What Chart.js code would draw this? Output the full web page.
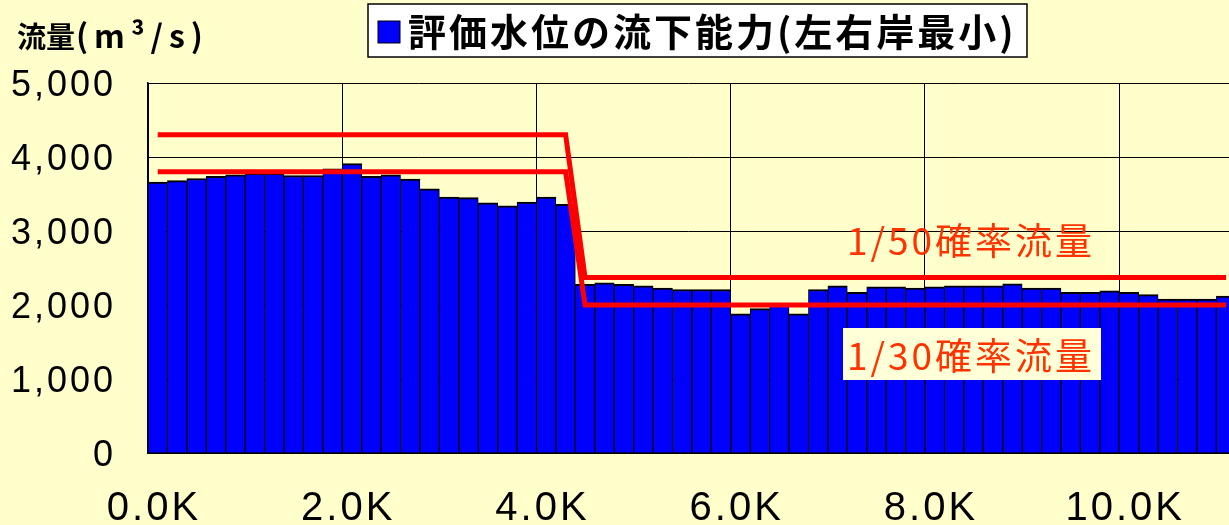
<!DOCTYPE html>
<html>
<head>
<meta charset="utf-8">
<script src="https://cdn.jsdelivr.net/npm/chart.js@4/dist/chart.umd.min.js"></script>
<style>
  html, body { margin: 0; padding: 0; background: #ffffcc; }
</style>
</head>
<body>
<canvas id="chart" width="1229" height="525"></canvas>
<script>
// 距離標 (bar centres, km)
const distanceK = [
  0.1, 0.3, 0.5, 0.7, 0.9, 1.1, 1.3, 1.5, 1.7, 1.9,
  2.1, 2.3, 2.5, 2.7, 2.9, 3.1, 3.3, 3.5, 3.7, 3.9,
  4.1, 4.3, 4.5, 4.7, 4.9, 5.1, 5.3, 5.5, 5.7, 5.9,
  6.1, 6.3, 6.5, 6.7, 6.9, 7.1, 7.3, 7.5, 7.7, 7.9,
  8.1, 8.3, 8.5, 8.7, 8.9, 9.1, 9.3, 9.5, 9.7, 9.9,
  10.1, 10.3, 10.5, 10.7, 10.9, 11.1
];
// 評価水位の流下能力(左右岸最小) m3/s
const capacity = [
  3660, 3680, 3710, 3740, 3760, 3780, 3780, 3750, 3750, 3840,
  3910, 3740, 3760, 3700, 3570, 3460, 3450, 3380, 3340, 3390,
  3460, 3360, 2280, 2300, 2280, 2260, 2230, 2210, 2210, 2210,
  1880, 1950, 2010, 1880, 2210, 2260, 2170, 2245, 2245, 2230,
  2245, 2260, 2260, 2260, 2285, 2230, 2230, 2170, 2170, 2190,
  2170, 2140, 2080, 2080, 2080, 2120
];
// 確率流量 (break points)
const flowLineK = [0.1, 4.3, 4.5, 11.1];
const flow50 = [4300, 4300, 2370, 2370];
const flow30 = [3800, 3800, 2000, 2000];

const xTickValues = [0, 2, 4, 6, 8, 10];
const xTickLabels = ["0.0K", "2.0K", "4.0K", "6.0K", "8.0K", "10.0K"];
const yTickValues = [0, 1000, 2000, 3000, 4000, 5000];
const yTickLabels = ["0", "1,000", "2,000", "3,000", "4,000", "5,000"];

const BG = "#ffffcc";
const JP = "'Noto Sans CJK JP', sans-serif";
const NUM = "'Liberation Sans', Arial, sans-serif";

const decor = {
  id: "decor",
  beforeDraw(chart) {
    const ctx = chart.ctx;
    ctx.save();
    ctx.fillStyle = BG;
    ctx.fillRect(0, 0, chart.width, chart.height);
    ctx.restore();
    ctx.letterSpacing = "3px"; // wide tick labels
  },
  afterDraw(chart) {
    const ctx = chart.ctx;
    ctx.letterSpacing = "0px";
    ctx.save();

    // y axis title
    ctx.fillStyle = "#000";
    ctx.textBaseline = "middle";
    ctx.font = "bold 29px " + JP;
    ctx.fillText("流量", 17, 37);
    ctx.font = "bold 32px " + JP;
    ctx.letterSpacing = "6px";
    ctx.fillText("(m³/s)", 76, 36);

    // legend box
    ctx.letterSpacing = "0px";
    ctx.fillStyle = "#ffffff";
    ctx.fillRect(368, 4, 659, 53);
    ctx.strokeStyle = "#000";
    ctx.lineWidth = 1.5;
    ctx.strokeRect(368, 4, 659, 53);
    ctx.fillStyle = "#0000ff";
    ctx.fillRect(378, 21, 22, 22);
    ctx.lineWidth = 1;
    ctx.strokeRect(378, 21, 22, 22);
    ctx.fillStyle = "#000";
    ctx.font = "bold 38px " + JP;
    ctx.letterSpacing = "3px";
    ctx.fillText("評価水位の流下能力(左右岸最小)", 408, 32);

    // flow labels
    ctx.font = "37px " + JP;
    ctx.fillStyle = "#ff3300";
    ctx.fillText("1/50確率流量", 847, 241);
    ctx.fillStyle = "#ffffd8";
    ctx.fillRect(843, 328, 258, 52);
    ctx.fillStyle = "#ff3300";
    ctx.fillText("1/30確率流量", 847, 356);

    ctx.restore();
    ctx.letterSpacing = "0px";
  }
};

new Chart(document.getElementById("chart"), {
  type: "bar",
  data: {
    datasets: [
      {
        type: "line",
        label: "1/50確率流量",
        data: flowLineK.map((x, i) => ({ x, y: flow50[i] })),
        borderColor: "#ff0000",
        borderWidth: 5,
        pointRadius: 0,
        fill: false,
        order: 1
      },
      {
        type: "line",
        label: "1/30確率流量",
        data: flowLineK.map((x, i) => ({ x, y: flow30[i] })),
        borderColor: "#ff0000",
        borderWidth: 5,
        pointRadius: 0,
        fill: false,
        order: 1
      },
      {
        label: "評価水位の流下能力(左右岸最小)",
        data: distanceK.map((x, i) => ({ x, y: capacity[i] })),
        backgroundColor: "#0000ff",
        borderColor: "#000000",
        borderWidth: { top: 2, left: 1, right: 1, bottom: 0 },
        barPercentage: 1,
        categoryPercentage: 1,
        order: 2
      }
    ]
  },
  options: {
    responsive: false,
    animation: false,
    layout: { padding: { top: 83, left: 0, right: 0, bottom: 0 } },
    plugins: {
      legend: { display: false },
      tooltip: { enabled: false }
    },
    scales: {
      x: {
        type: "linear",
        min: 0,
        max: 11.13,
        offset: false,
        afterBuildTicks: s => { s.ticks = xTickValues.map(v => ({ value: v })); },
        afterFit: s => { s.height = 72; },
        grid: { color: "#000", lineWidth: 1, drawTicks: false, offset: false },
        border: { color: "#000", width: 1.5 },
        ticks: {
          callback: (v, i) => xTickLabels[i],
          font: { family: NUM, size: 40 },
          color: "#000",
          padding: 32,
          labelOffset: 6,
          autoSkip: false,
          maxRotation: 0
        }
      },
      y: {
        min: 0,
        max: 5000,
        afterBuildTicks: s => { s.ticks = yTickValues.map(v => ({ value: v })); },
        afterFit: s => { s.width = 148; },
        grid: { color: "#000", lineWidth: 1, drawTicks: false },
        border: { color: "#000", width: 1.5 },
        ticks: {
          callback: (v, i) => yTickLabels[i],
          font: { family: NUM, size: 36 },
          color: "#000",
          padding: 32,
          labelOffset: 3
        }
      }
    }
  },
  plugins: [decor]
});
</script>
</body>
</html>
